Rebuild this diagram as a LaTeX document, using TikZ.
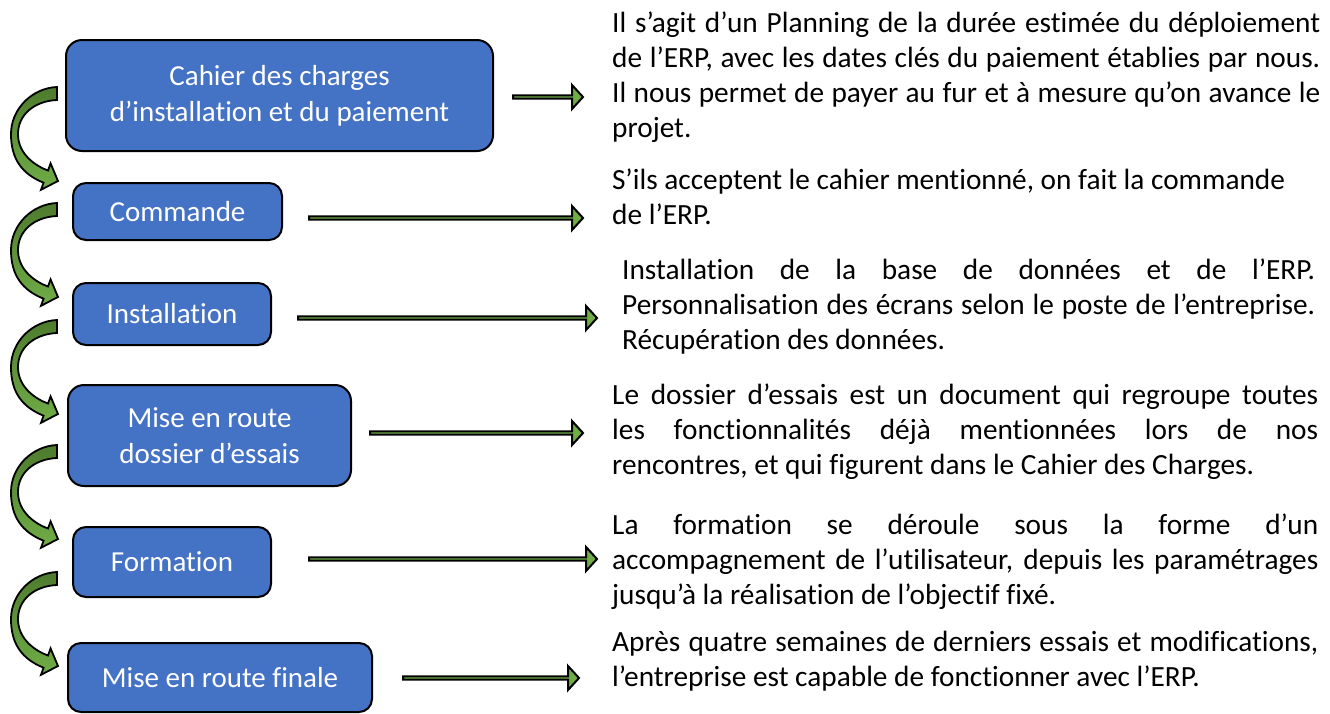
\documentclass[tikz,border=0pt]{standalone}
\usepackage{fontspec}
\setmainfont{Carlito}[RawFeature={-liga}]
\usetikzlibrary{shapes.arrows}
\definecolor{boxblue}{HTML}{4472C4}
\definecolor{agreen}{HTML}{70AD47}
\definecolor{dgreen}{HTML}{4E7B2E}
\newcommand\curvarr[1]{%
  \shadedraw[carrow] (57,#1) .. controls (32,#1+1) and (11,#1+22) .. (11,#1+47)
    .. controls (11,#1+72) and (22,#1+87) .. (43.6,#1+95.7)
    -- (41.0,#1+102.8) -- (58,#1+94) -- (50.6,#1+76.4) -- (48.0,#1+83.5)
    .. controls (36.7,#1+79.4) and (18,#1+68) .. (18,#1+47)
    .. controls (18,#1+28) and (34,#1+14) .. (57,#1+13) -- cycle;}
\begin{document}
\begin{tikzpicture}[x=1pt,y=-1pt,
  box/.style={draw=black, line width=2pt, fill=boxblue, rounded corners=13pt,
    text=white, font=\fontsize{29}{36}\selectfont, align=center, inner sep=0pt},
  txt/.style={anchor=base west, inner sep=0pt, font=\fontsize{29.3}{35}\selectfont},
  blockarr/.style={single arrow, draw=black, line width=2pt, fill=agreen,
    minimum width=24pt, single arrow head extend=6.5pt, single arrow tip angle=95,
    inner sep=0pt, anchor=west},
  carrow/.style={draw=black, line width=1.8pt, top color=dgreen, bottom color=agreen}]
\useasboundingbox (0,0) rectangle (1330,713);

% boxes
\node[box, minimum width=427pt, minimum height=111pt, rounded corners=16pt] (b1) at (279.5,95.5)
  {Cahier des charges\\d’installation et du paiement};
\node[box, minimum width=209pt, minimum height=57pt] (b2) at (177.5,211.5) {Commande};
\node[box, minimum width=198pt, minimum height=62pt] (b3) at (172,314) {Installation};
\node[box, minimum width=283pt, minimum height=101pt, rounded corners=16pt] (b4) at (209.5,435.5)
  {Mise en route\\dossier d’essais};
\node[box, minimum width=198pt, minimum height=70pt] (b5) at (172,562) {Formation};
\node[box, minimum width=304pt, minimum height=69pt] (b6) at (220,677.5) {Mise en route finale};

% straight arrows
\node[blockarr, minimum height=70pt]  (a1) at (512,97) {};
\node[blockarr, minimum height=274pt] (a2) at (308,218) {};
\node[blockarr, minimum height=299pt] (a3) at (297,318) {};
\node[blockarr, minimum height=213pt] (a4) at (369,433) {};
\node[blockarr, minimum height=288pt] (a5) at (308,559) {};
\node[blockarr, minimum height=176pt] (a6) at (402,678) {};

% curved arrows
\curvarr{87}
\curvarr{203}
\curvarr{320}
\curvarr{445}
\curvarr{572}

% texts
\node[txt] (t1a) at (612,32) {\makebox[708pt][s]{Il s’agit d’un Planning de la durée estimée du déploiement}};
\node[txt] (t1b) at (612,67) {\makebox[708pt][s]{de l’ERP, avec les dates clés du paiement établies par nous.}};
\node[txt] (t1c) at (612,102) {\makebox[708pt][s]{Il nous permet de payer au fur et à mesure qu’on avance le}};
\node[txt] (t1d) at (612,137) {projet.};

\node[txt] (t2a) at (612,189) {S’ils acceptent le cahier mentionné, on fait la commande};
\node[txt] (t2b) at (612,224) {de l’ERP.};

\node[txt] (t3a) at (622,279) {\makebox[693pt][s]{Installation de la base de données et de l’ERP.}};
\node[txt] (t3b) at (622,314) {\makebox[693pt][s]{Personnalisation des écrans selon le poste de l’entreprise.}};
\node[txt] (t3c) at (622,349) {Récupération des données.};

\node[txt] (t4a) at (612,404) {\makebox[706pt][s]{Le dossier d’essais est un document qui regroupe toutes}};
\node[txt] (t4b) at (612,439) {\makebox[706pt][s]{les fonctionnalités déjà mentionnées lors de nos}};
\node[txt] (t4c) at (612,474) {rencontres, et qui figurent dans le Cahier des Charges.};

\node[txt] (t5a) at (612,534) {\makebox[706pt][s]{La formation se déroule sous la forme d’un}};
\node[txt] (t5b) at (612,569) {\makebox[706pt][s]{accompagnement de l’utilisateur, depuis les paramétrages}};
\node[txt] (t5c) at (612,604) {jusqu’à la réalisation de l’objectif fixé.};

\node[txt] (t6a) at (612,651) {\makebox[706pt][s]{Après quatre semaines de derniers essais et modifications,}};
\node[txt] (t6b) at (612,686) {l’entreprise est capable de fonctionner avec l’ERP.};
\end{tikzpicture}
\end{document}
